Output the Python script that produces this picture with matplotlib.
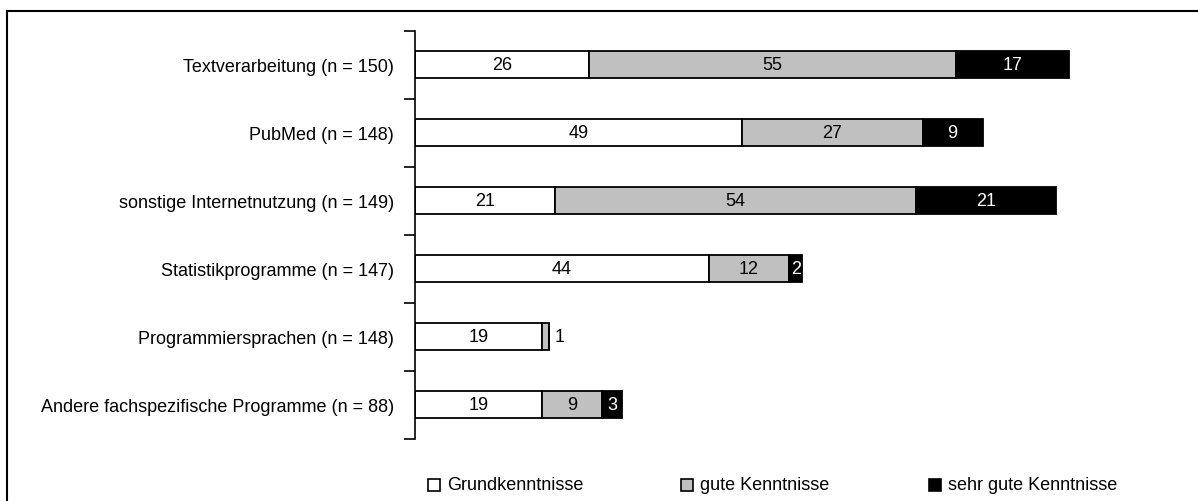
import matplotlib
matplotlib.use("Agg")
import matplotlib.pyplot as plt
from matplotlib.patches import Rectangle
from matplotlib.lines import Line2D
import numpy as np

plt.rcParams['font.family'] = ['Liberation Sans', 'DejaVu Sans']

# Kategorien (von oben nach unten)
categories = [
    "Textverarbeitung (n = 150)",
    "PubMed (n = 148)",
    "sonstige Internetnutzung (n = 149)",
    "Statistikprogramme (n = 147)",
    "Programmiersprachen (n = 148)",
    "Andere fachspezifische Programme (n = 88)",
]
# Werte je Kenntnisstufe
grund = [26, 49, 21, 44, 19, 19]
gut = [55, 27, 54, 12, 1, 9]
sehr_gut = [17, 9, 21, 2, 0, 3]

series_labels = ["Grundkenntnisse", "gute Kenntnisse", "sehr gute Kenntnisse"]
series_colors = ["white", "#c0c0c0", "black"]
text_colors = ["black", "black", "white"]

FS = 13

fig = plt.figure(figsize=(11.98, 5.02), dpi=100)
ax = fig.add_axes([415 / 1198, 1 - 439.5 / 502, 768 / 1198, (439.5 - 31.5) / 502])

y = np.arange(len(categories))
left = np.zeros(len(categories))
for vals, col, tcol in zip([grund, gut, sehr_gut], series_colors, text_colors):
    vals = np.array(vals, dtype=float)
    ax.barh(y, vals, left=left, height=0.41, color=col, edgecolor="black",
            linewidth=1.3, zorder=2)
    for yi, l, v in zip(y, left, vals):
        if v <= 0:
            continue
        if v < 2:
            # schmale Segmente: Beschriftung rechts daneben
            ax.text(l + v + 0.9, yi, f"{v:g}", ha="left", va="center",
                    fontsize=FS, color="black")
        else:
            ax.text(l + v / 2, yi, f"{v:g}", ha="center", va="center",
                    fontsize=FS, color=tcol)
    left += vals

ax.set_xlim(0, 115)
ax.set_ylim(len(categories) - 0.5, -0.5)

# Achsen: nur linke Linie
for s in ["top", "right", "bottom"]:
    ax.spines[s].set_visible(False)
ax.spines["left"].set_linewidth(1.2)
ax.set_xticks([])
ax.set_yticks(np.arange(-0.5, len(categories), 1.0))
ax.set_yticklabels([])
ax.tick_params(axis="y", which="major", length=8, width=1.2, direction="out")
ax.set_yticks(y, minor=True)
ax.set_yticklabels(categories, minor=True, fontsize=FS)
ax.tick_params(axis="y", which="minor", length=0, pad=15)

# Legende manuell
leg_x = [428, 681, 929]
for xpx, lab, col in zip(leg_x, series_labels, series_colors):
    fig.add_artist(Rectangle((xpx / 1198, 1 - 492 / 502), 12 / 1198, 12 / 502,
                             transform=fig.transFigure, facecolor=col,
                             edgecolor="black", linewidth=1.2))
    fig.text((xpx + 19) / 1198, 1 - 486 / 502, lab, ha="left", va="center",
             fontsize=FS)

# Rahmen (links und oben)
fig.add_artist(Line2D([7 / 1198, 7 / 1198], [0, 1 - 12 / 502],
                      transform=fig.transFigure, color="black", linewidth=1.5))
fig.add_artist(Line2D([7 / 1198, 1], [1 - 12 / 502, 1 - 12 / 502],
                      transform=fig.transFigure, color="black", linewidth=1.5))

fig.savefig("out.png", dpi=100)
